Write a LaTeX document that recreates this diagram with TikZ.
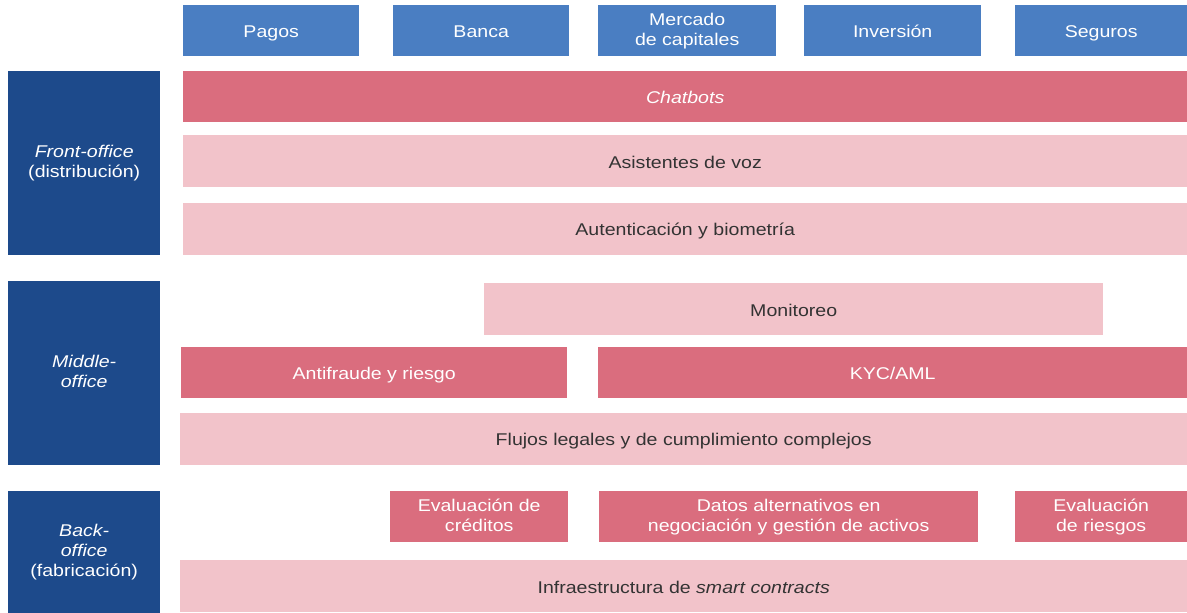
\documentclass[tikz,border=0pt]{standalone}
\usepackage{fontspec}
\setmainfont{Liberation Sans}[FakeStretch=1.15]
\usetikzlibrary{positioning}
\definecolor{navy}{HTML}{1D4A8B}
\definecolor{sector}{HTML}{4A7EC2}
\definecolor{rose}{HTML}{DA6D7E}
\definecolor{blush}{HTML}{F2C3CA}
\definecolor{ink}{HTML}{333333}
\newcommand{\cellstrut}{\rule[-3pt]{0pt}{20pt}}
\tikzset{
  cell/.style={rectangle,inner sep=0pt,anchor=north west,align=center,
    font=\fontsize{17}{20}\selectfont,
    execute at begin node=\cellstrut,execute at end node=\cellstrut},
  tabcell/.style={cell,fill=sector,text=white,minimum height=51pt},
  layer/.style={cell,fill=navy,text=white,minimum width=152pt},
  strong/.style={cell,fill=rose,text=white,minimum height=51pt},
  soft/.style={cell,fill=blush,text=ink,minimum height=52pt}
}
\begin{document}
\begin{tikzpicture}[x=1pt,y=-1pt]
  \useasboundingbox (0,0) rectangle (1187,613);
  % sectors
  \foreach \x/\w/\id/\lab in {183/176/pagos/Pagos,393/176/banca/Banca,
      598/178/mercado/{Mercado\\de capitales},804/177/inversion/Inversión,
      1015/172/seguros/Seguros} {
    \node[tabcell,minimum width=\w pt] (\id) at (\x,5) {\lab};
  }
  % layers
  \node[layer,minimum height=184pt] (front) at (8,71) {\textit{Front-office}\\(distribución)};
  \node[layer,minimum height=184pt] (middle) at (8,281) {\textit{Middle-}\\\textit{office}};
  \node[layer,minimum height=122pt] (back) at (8,491) {\textit{Back-}\\\textit{office}\\(fabricación)};
  % front-office
  \node[strong,minimum width=1004pt] (chat) at (183,71) {\textit{Chatbots}};
  \node[soft,minimum width=1004pt] (voz) at (183,135) {Asistentes de voz};
  \node[soft,minimum width=1004pt] (auth) at (183,203) {Autenticación y biometría};
  % middle-office
  \node[soft,minimum width=619pt] (monit) at (484,283) {Monitoreo};
  \node[strong,minimum width=386pt] (fraude) at (181,347) {Antifraude y riesgo};
  \node[strong,minimum width=589pt] (kyc) at (598,347) {KYC/AML};
  \node[soft,minimum width=1007pt] (flujos) at (180,413) {Flujos legales y de cumplimiento complejos};
  % back-office
  \node[strong,minimum width=178pt] (creditos) at (390,491) {Evaluación de\\créditos};
  \node[strong,minimum width=379pt] (datos) at (599,491) {Datos alternativos en\\negociación y gestión de activos};
  \node[strong,minimum width=172pt] (riesgos) at (1015,491) {Evaluación\\de riesgos};
  \node[soft,minimum width=1007pt] (smart) at (180,560) {Infraestructura de \textit{smart contracts}};
\end{tikzpicture}
\end{document}
